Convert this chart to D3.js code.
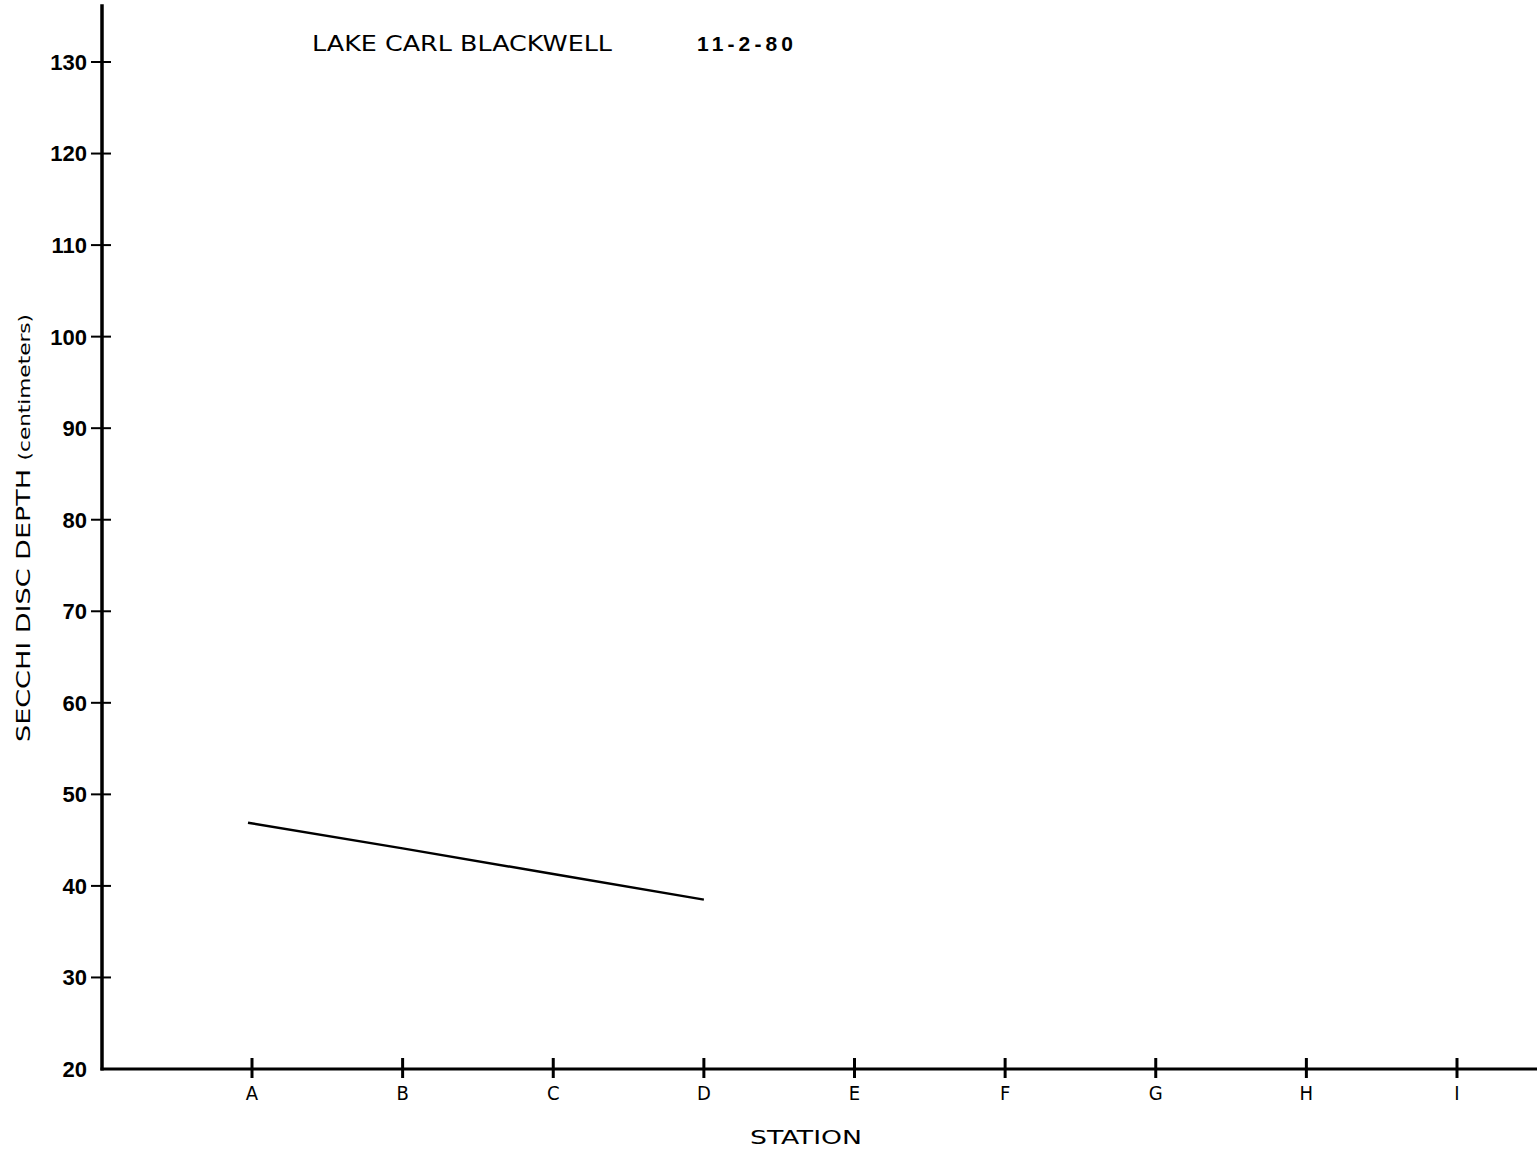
<!DOCTYPE html>
<html><head><meta charset="utf-8">
<script src="https://cdn.jsdelivr.net/npm/d3@7"></script>
<style>body{margin:0;background:#fff}svg{display:block}</style>
</head><body>
<script>
const stations = ["A","B","C","D","E","F","G","H","I"];
const depthStations = ["A","B","C","D"];
const depthValues = [46.9, 44.1, 41.3, 38.5];
const yTicks = [20,30,40,50,60,70,80,90,100,110,120,130];

const W=1537,H=1157;
const svg=d3.select("body").append("svg").attr("width",W).attr("height",H);
const x=d3.scalePoint().domain(stations).range([252,1457]);
const y=d3.scaleLinear().domain([20,130]).range([1069,62]);
const axisX=102;

// y axis line
svg.append("line").attr("x1",axisX).attr("x2",axisX).attr("y1",y(136.3)).attr("y2",y(20)+1.5)
  .attr("stroke","#000").attr("stroke-width",3.5);
// x axis line
svg.append("line").attr("x1",axisX-1.5).attr("x2",W).attr("y1",y(20)).attr("y2",y(20))
  .attr("stroke","#000").attr("stroke-width",3);

// y ticks
const yg=svg.append("g");
yg.selectAll("line").data(yTicks.filter(d=>d>20)).join("line")
  .attr("x1",axisX-11).attr("x2",axisX+9).attr("y1",d=>y(d)).attr("y2",d=>y(d))
  .attr("stroke","#000").attr("stroke-width",2);
yg.selectAll("text").data(yTicks).join("text")
  .attr("x",axisX-15).attr("y",d=>y(d)).attr("dy","0.36em").attr("text-anchor","end")
  .attr("font-family","Liberation Sans, Arial, sans-serif").attr("font-weight","bold")
  .attr("font-size",22).text(d=>d);

// x ticks
const xg=svg.append("g");
xg.selectAll("line").data(stations).join("line")
  .attr("x1",d=>x(d)).attr("x2",d=>x(d)).attr("y1",y(20)-11).attr("y2",y(20)+9)
  .attr("stroke","#000").attr("stroke-width",3);
xg.selectAll("text").data(stations).join("text")
  .attr("x",d=>x(d)).attr("y",1100).attr("text-anchor","middle")
  .attr("font-family","DejaVu Sans Condensed, DejaVu Sans, sans-serif")
  .attr("font-size",20).text(d=>d);

// line
const line=d3.line().x((d,i)=>x(depthStations[i])-4*(i===0)).y(d=>y(d));
svg.append("path").datum(depthValues).attr("d",line)
  .attr("fill","none").attr("stroke","#000").attr("stroke-width",2.5);

// titles
svg.append("text").attr("x",312).attr("y",51).attr("font-family","DejaVu Sans Condensed, DejaVu Sans, sans-serif")
  .attr("font-size",21).attr("textLength",300).attr("lengthAdjust","spacingAndGlyphs").text("LAKE CARL BLACKWELL");
svg.append("text").attr("x",697).attr("y",51).attr("font-family","Liberation Sans, Arial, sans-serif")
  .attr("font-weight","bold").attr("font-size",21).attr("textLength",96).attr("lengthAdjust","spacing").text("11-2-80");
svg.append("text").attr("x",806).attr("y",1144).attr("text-anchor","middle")
  .attr("font-family","DejaVu Sans Condensed, DejaVu Sans, sans-serif").attr("font-size",20)
  .attr("textLength",112).attr("lengthAdjust","spacingAndGlyphs").text("STATION");
const yt=svg.append("text").attr("transform","translate(30,528) rotate(-90)").attr("text-anchor","middle")
  .attr("font-family","DejaVu Sans Condensed, DejaVu Sans, sans-serif").attr("font-size",20)
  .attr("textLength",428).attr("lengthAdjust","spacingAndGlyphs");
yt.append("tspan").text("SECCHI DISC DEPTH ");
yt.append("tspan").attr("font-size",16).text("(centimeters)");
</script>
</body></html>
